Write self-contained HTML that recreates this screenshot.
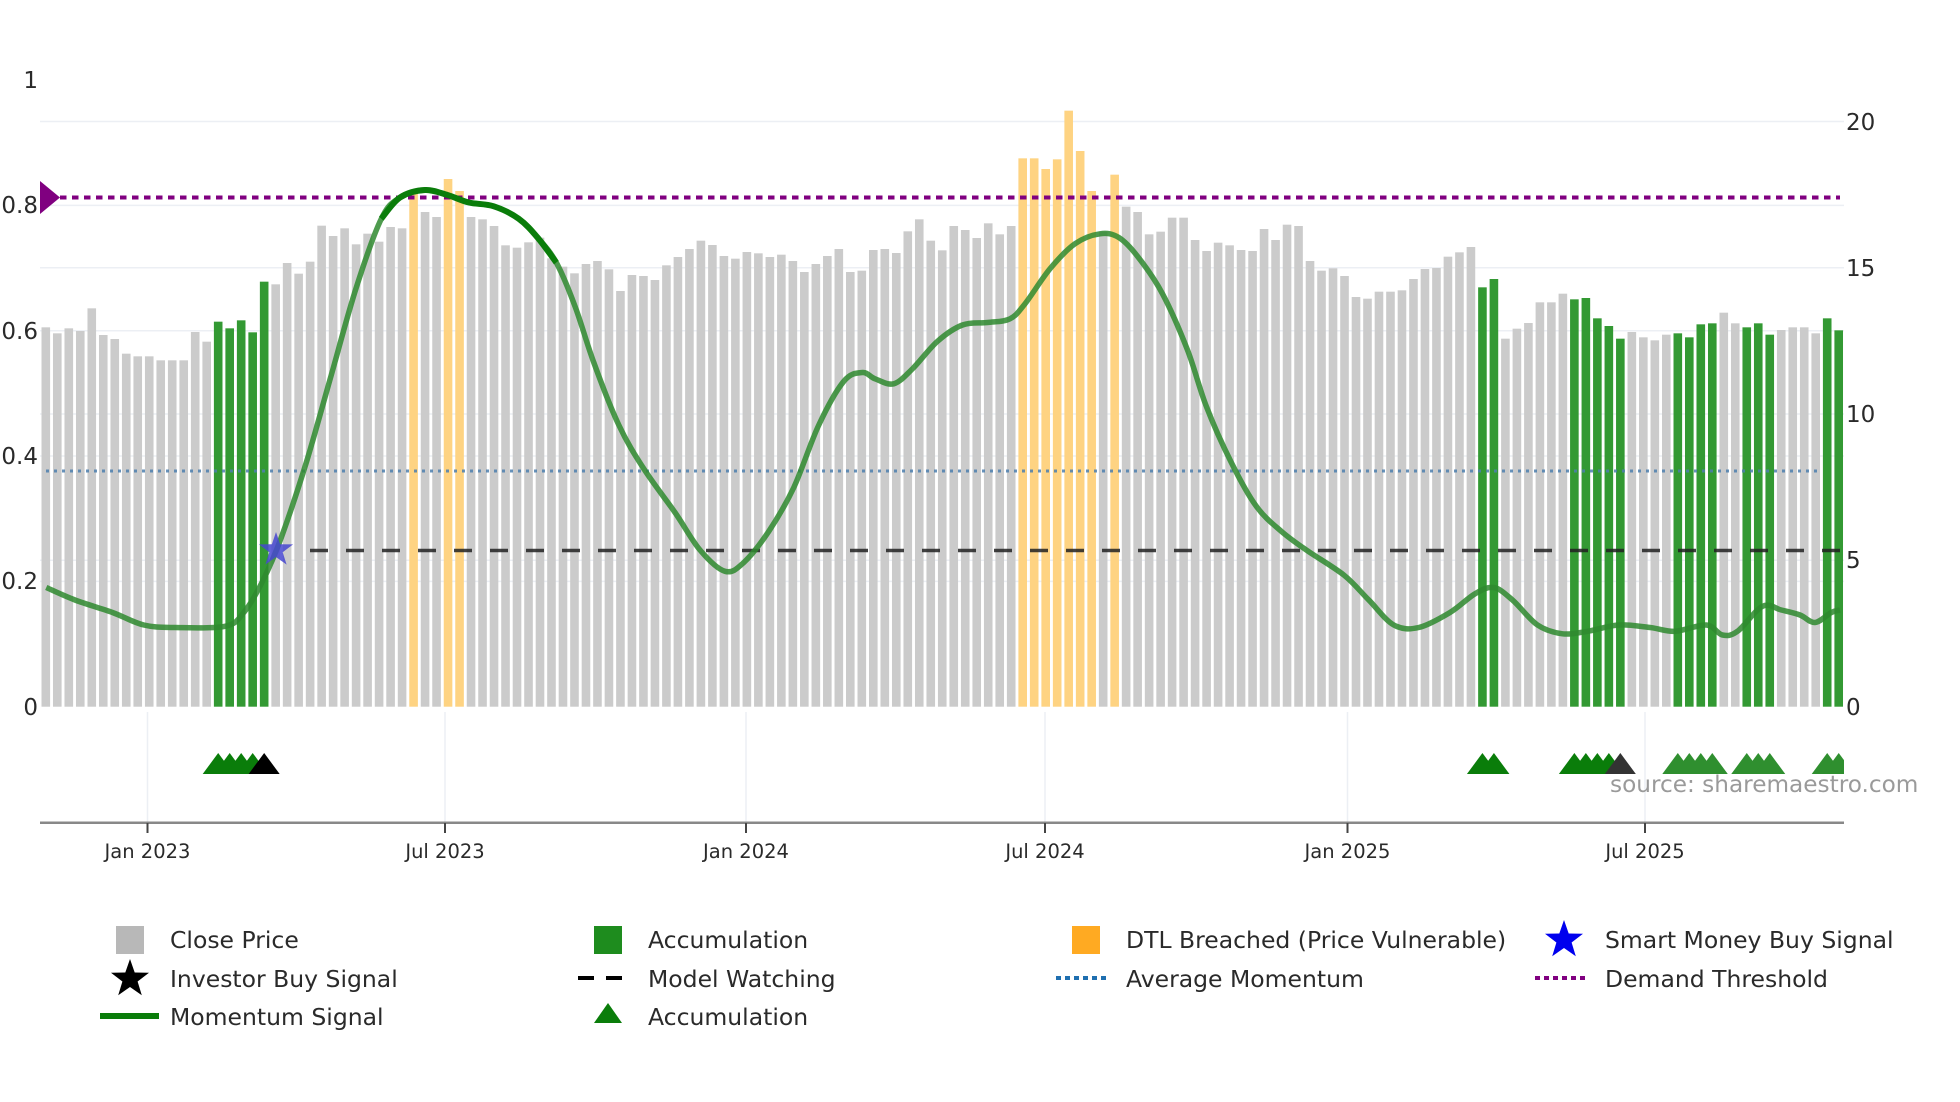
<!DOCTYPE html>
<html><head><meta charset="utf-8"><style>
html,body{margin:0;padding:0;background:#fff;}
svg{display:block;font-family:"DejaVu Sans","Liberation Sans",sans-serif;}
</style></head><body>
<svg id="c" width="1960" height="1102" viewBox="0 0 1960 1102" xmlns="http://www.w3.org/2000/svg">
<defs><clipPath id="pc"><rect x="40" y="0" width="1804" height="1102"/></clipPath></defs>
<g id="grid" stroke="#eceff4" stroke-width="1.5">
<line x1="40" x2="1844" y1="121.5" y2="121.5"/>
<line x1="40" x2="1844" y1="267.8" y2="267.8"/>
<line x1="40" x2="1844" y1="414" y2="414"/>
<line x1="40" x2="1844" y1="560.3" y2="560.3"/>
<line x1="40" x2="1844" y1="205.4" y2="205.4"/>
<line x1="40" x2="1844" y1="330.7" y2="330.7"/>
<line x1="40" x2="1844" y1="456" y2="456"/>
<line x1="40" x2="1844" y1="581.4" y2="581.4"/>
<line x1="147.5" x2="147.5" y1="712" y2="822"/>
<line x1="445" x2="445" y1="712" y2="822"/>
<line x1="746" x2="746" y1="712" y2="822"/>
<line x1="1045" x2="1045" y1="712" y2="822"/>
<line x1="1347.5" x2="1347.5" y1="712" y2="822"/>
<line x1="1645" x2="1645" y1="712" y2="822"/>
</g>
<g id="bars"></g>
<line x1="46" x2="1820" y1="471" y2="471" stroke="#4d7fae" stroke-width="3" stroke-dasharray="3,5" opacity="0.85"/>
<line x1="310" x2="1840" y1="550.5" y2="550.5" stroke="#222" stroke-width="3.5" stroke-dasharray="18,18" opacity="0.85"/>
<line x1="48" x2="1840" y1="197.5" y2="197.5" stroke="#800080" stroke-width="4" stroke-dasharray="6.5,5.5"/>
<polygon points="40,181 60,197.5 40,214" fill="#800080"/>
<path id="mom" fill="none" stroke="#2f8a2f" stroke-width="5.5" stroke-opacity="0.85" stroke-linejoin="round"/>
<path id="momd" fill="none" stroke="#0a7d0a" stroke-width="6" stroke-linejoin="round"/>
<polygon id="bstar" fill="#4747d0" opacity="0.85"/>
<g id="tri" clip-path="url(#pc)"></g>
<line x1="40" x2="1844" y1="822.7" y2="822.7" stroke="#888" stroke-width="2.5"/>
<g stroke="#444" stroke-width="2">
<line x1="147.5" x2="147.5" y1="823" y2="833"/><line x1="445" x2="445" y1="823" y2="833"/>
<line x1="746" x2="746" y1="823" y2="833"/><line x1="1045" x2="1045" y1="823" y2="833"/>
<line x1="1347.5" x2="1347.5" y1="823" y2="833"/><line x1="1645" x2="1645" y1="823" y2="833"/>
</g>
<g font-size="19.5" fill="#2a2a2a" text-anchor="middle">
<text x="147.5" y="858">Jan 2023</text><text x="445" y="858">Jul 2023</text>
<text x="746" y="858">Jan 2024</text><text x="1045" y="858">Jul 2024</text>
<text x="1347.5" y="858">Jan 2025</text><text x="1645" y="858">Jul 2025</text>
</g>
<g font-size="23" fill="#2a2a2a" text-anchor="end">
<text x="38" y="88">1</text><text x="38" y="213">0.8</text><text x="38" y="339">0.6</text>
<text x="38" y="464">0.4</text><text x="38" y="589">0.2</text><text x="38" y="715">0</text>
</g>
<g font-size="23" fill="#2a2a2a">
<text x="1846" y="130">20</text><text x="1846" y="276">15</text><text x="1846" y="422">10</text>
<text x="1846" y="568">5</text><text x="1846" y="715">0</text>
</g>
<text x="1610" y="792" font-size="23.2" fill="#9a9a9a">source: sharemaestro.com</text>
<g font-size="23.5" fill="#2a2a2a">
<rect x="116" y="926" width="28" height="28" fill="#b8b8b8"/><text x="170" y="948">Close Price</text>
<rect x="594" y="926" width="28" height="28" fill="#1e8c1e"/><text x="648" y="948">Accumulation</text>
<rect x="1072" y="926" width="28" height="28" fill="#ffaa22"/><text x="1126" y="948">DTL Breached (Price Vulnerable)</text>
<polygon id="ls1" fill="#0000ee"/><text x="1605" y="948">Smart Money Buy Signal</text>
<polygon id="ls2" fill="#000"/><text x="170" y="987">Investor Buy Signal</text>
<line x1="578" x2="632" y1="978" y2="978" stroke="#000" stroke-width="4" stroke-dasharray="16,12"/><text x="648" y="987">Model Watching</text>
<line x1="1056" x2="1110" y1="978" y2="978" stroke="#1f6fb0" stroke-width="4" stroke-dasharray="5,4"/><text x="1126" y="987">Average Momentum</text>
<line x1="1535" x2="1589" y1="978" y2="978" stroke="#800080" stroke-width="4" stroke-dasharray="5,4"/><text x="1605" y="987">Demand Threshold</text>
<line x1="100" x2="159" y1="1016" y2="1016" stroke="#0a7d0a" stroke-width="6"/><text x="170" y="1025">Momentum Signal</text>
<polygon points="608,1003 594,1023 622,1023" fill="#0a7d0a"/><text x="648" y="1025">Accumulation</text>
</g>
</svg>
<script>
(function(){
var NS="http://www.w3.org/2000/svg";
function el(t,a,p){var e=document.createElementNS(NS,t);for(var k in a)e.setAttribute(k,a[k]);p.appendChild(e);return e;}
var z3=[532,550,535,543,475,555,567,611,619,619,631,631,631,546,575,515,535,511,547,395,403,339,371,335,227,258,235,283,251,275,231,235,130,186,201,87,123,201,208,228,286,293];
var z4=[277,263,325,350,370,342,333,358,423,375,378,390,346,321,297,272,285,318,326,306,310,321,314,333,366,342,318,297,366,362,300,297,309,244,208,272,301,228,240,264];
var z5=[370,403,378,175,175,207,178,32,153,273,395,224,320,336,403,395,353,353,420,453,428,436,450,453,387,420,374,378,483,512,505,528,591,596,575,575,571,537];
var z6=[207,204,170,157,141,262,237,416,386,369,307,307,281,298,294,355,378,416,396,412,421,404,400,412,373,370,338,370,382,370,404,390,382,382,400,355,391];
var tops=[];
z3.forEach(function(v){tops.push(150+v/3);});
z4.forEach(function(v){tops.push(150+v/3);});
z5.forEach(function(v){tops.push(100+v/3);});
z6.forEach(function(v){tops.push(200+v/3);});
var green={15:1,16:1,17:1,18:1,19:1,125:1,126:1,133:1,134:1,135:1,136:1,137:1,142:1,143:1,144:1,145:1,148:1,149:1,150:1,155:1,156:1};
var orange={32:1,35:1,36:1,85:1,86:1,87:1,88:1,89:1,90:1,91:1,93:1};
var g=document.getElementById('bars');
var base=706.7,p=11.493;
function bx(i){return 45.8+p*i;}
for(var i=0;i<tops.length;i++){
 var c=green[i]?'#339933':(orange[i]?'#fed382':'#cbcbcb');
 el('rect',{x:(bx(i)-4.3).toFixed(2),y:tops[i].toFixed(2),width:8.6,height:(base-tops[i]).toFixed(2),fill:c},g);
}
var pts=[[37,470],[60,480],[90,490],[115,500],[140,502],[180,501],[195,490],[210,465],[225,430],[245,370],[265,300],[285,230],[305,175],[320,158],[340,152],[358,156],[375,162],[395,165],[415,175],[430,190],[445,210],[460,245],[475,290],[495,340],[515,375],[540,410],[560,440],[580,457],[595,450],[615,425],[635,390],[655,340],[675,305],[690,298],[700,303],[715,307],[730,295],[750,273],[770,260],[790,258],[808,255],[820,243],[840,215],[860,195],[880,187],[895,190],[910,205],[930,235],[950,280],[965,325],[985,370],[1005,405],[1025,425],[1045,440],[1075,460],[1095,480],[1115,500],[1135,502],[1160,490],[1180,475],[1195,470],[1210,480],[1230,500],[1250,507],[1270,505],[1295,500],[1320,502],[1340,505],[1365,500],[1378,508],[1390,505],[1410,485],[1425,488],[1440,492],[1452,498],[1465,490],[1472,488]];
pts=pts.map(function(q){return [q[0]*1.25,q[1]*1.25];});
function cr(P){var d='M'+P[0][0]+','+P[0][1];for(var i=0;i<P.length-1;i++){var p0=P[i-1]||P[i],p1=P[i],p2=P[i+1],p3=P[i+2]||p2;
 d+=' C'+(p1[0]+(p2[0]-p0[0])/6).toFixed(1)+','+(p1[1]+(p2[1]-p0[1])/6).toFixed(1)+' '+(p2[0]-(p3[0]-p1[0])/6).toFixed(1)+','+(p2[1]-(p3[1]-p1[1])/6).toFixed(1)+' '+p2[0].toFixed(1)+','+p2[1].toFixed(1);}return d;}
document.getElementById('mom').setAttribute('d',cr(pts));
var dk=pts.filter(function(q){return q[0]>=370&&q[0]<=560;});
document.getElementById('momd').setAttribute('d',cr(dk));
function star(cx,cy,R,r){var s=[];for(var k=0;k<10;k++){var a=-Math.PI/2+k*Math.PI/5,rr=k%2?r:R;s.push((cx+rr*Math.cos(a)).toFixed(1)+','+(cy+rr*Math.sin(a)).toFixed(1));}return s.join(' ');}
document.getElementById('bstar').setAttribute('points',star(276,550,18,7));
document.getElementById('ls1').setAttribute('points',star(1564,940,20,8));
document.getElementById('ls2').setAttribute('points',star(130,979,20,8));
var tg=document.getElementById('tri');
function tri(i,c){var x=bx(i);el('polygon',{points:(x)+',753 '+(x-15.5)+',774 '+(x+15.5)+',774',fill:c},tg);}
[15,16,17,18].forEach(function(i){tri(i,'#0a7d0a');});tri(19,'#000');
[125,126].forEach(function(i){tri(i,'#0a7d0a');});
[133,134,135,136].forEach(function(i){tri(i,'#0a7d0a');});tri(137,'#333');
[142,143,144,145,148,149,150,155,156].forEach(function(i){tri(i,'#2f8f2f');});
})();
</script>
</body></html>
